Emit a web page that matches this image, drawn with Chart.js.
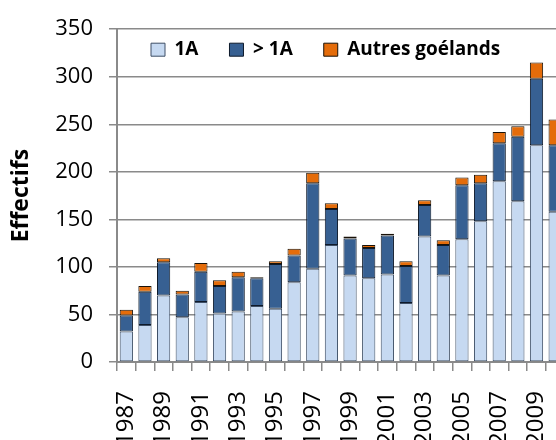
<!DOCTYPE html>
<html>
<head>
<meta charset="utf-8">
<script src="https://cdn.jsdelivr.net/npm/chart.js@4/dist/chart.umd.min.js"></script>
<style>
  html, body { margin: 0; padding: 0; background: #fff; overflow: hidden; }
  #wrap { width: 604px; height: 440px; }
</style>
</head>
<body>
<div id="wrap"><canvas id="effectifsChart" width="604" height="440"></canvas></div>
<script>
// Counts per year
const years = ["1987", "1988", "1989", "1990", "1991", "1992", "1993", "1994", "1995", "1996", "1997", "1998",
  "1999", "2000", "2001", "2002", "2003", "2004", "2005", "2006", "2007", "2008", "2009", "2010"];
const firstYear = [32, 39, 70, 47, 63, 51, 53, 59, 56, 84, 98, 123, 91, 88, 92, 62, 132, 91, 129, 148, 190, 169, 228, 158];
const olderBirds = [17, 35, 35, 24, 32, 29, 36, 29, 47, 28, 90, 38, 39, 32, 41, 39, 33, 32, 57, 40, 40, 68, 70, 70];
const otherGulls = [6, 6, 4, 4, 9, 6, 6, 1, 3, 7, 11, 6, 2, 3, 2, 5, 5, 5, 8, 9, 12, 11, 17, 27];
const yTicks = [0, 50, 100, 150, 200, 250, 300, 350];

const gridGray = "#8a8a8a";

// the legend sits inside the plot, just under the top gridline
const legendInPlot = {
  id: "legendInPlot",
  beforeDraw(chart) {
    const lg = chart.legend;
    if (!lg) return;
    const area = chart.chartArea;
    lg.left = area.left + 3;
    lg.right = area.right;
    lg.top = area.top - 20;
    lg.bottom = area.top + 40;
    lg.width = lg.right - lg.left;
    lg.height = lg.bottom - lg.top;
  },
};

document.addEventListener("DOMContentLoaded", () => {
  const ctx = document.getElementById("effectifsChart").getContext("2d");
  new Chart(ctx, {
    type: "bar",
    data: {
      labels: years,
      datasets: [
        {
          label: "1A",
          data: firstYear,
          backgroundColor: "#c6d9f1",
          borderColor: "#3e4f66",
          borderWidth: 1,
          borderSkipped: false,
        },
        {
          label: "> 1A",
          data: olderBirds,
          backgroundColor: "#376092",
          borderColor: "#0e1a2b",
          borderWidth: 1,
          borderSkipped: false,
        },
        {
          label: "Autres goélands",
          data: otherGulls,
          backgroundColor: "#e46c0a",
          borderColor: "#1a1208",
          borderWidth: 1,
          borderSkipped: false,
        },
      ],
    },
    options: {
      responsive: false,
      animation: false,
      layout: { padding: { top: 0, right: 2, bottom: 0, left: 0 } },
      datasets: { bar: { categoryPercentage: 0.71, barPercentage: 1 } },
      plugins: {
        tooltip: { enabled: false },
        legend: {
          position: "top",
          align: "start",
          maxHeight: 26,
          labels: {
            boxWidth: 14,
            boxHeight: 13,
            padding: 31,
            color: "#000",
            font: { family: "'Open Sans'", size: 19, weight: "bold" },
          },
        },
      },
      scales: {
        x: {
          stacked: true,
          offset: true,
          grid: { drawOnChartArea: false, drawTicks: true, tickLength: 9, color: gridGray, lineWidth: 1.5 },
          border: { color: gridGray, width: 2 },
          ticks: {
            autoSkip: false,
            minRotation: 90,
            maxRotation: 90,
            padding: 20,
            color: "#000",
            font: { family: "'Open Sans'", size: 24 },
            callback: (v, i) => (i % 2 === 0 ? years[i] : ""),
          },
          afterFit: (scale) => { scale.height = 78; },
        },
        y: {
          stacked: true,
          min: 0,
          max: 350,
          afterBuildTicks: (scale) => { scale.ticks = yTicks.map((v) => ({ value: v })); },
          grid: { color: gridGray, lineWidth: 1.5, tickLength: 8 },
          border: { color: gridGray, width: 2 },
          ticks: {
            padding: 16,
            color: "#000",
            font: { family: "'Open Sans'", size: 22 },
          },
          title: {
            display: true,
            text: "Effectifs",
            color: "#000",
            padding: { top: 8, bottom: 0 },
            font: { family: "'Open Sans'", size: 23, weight: "bold" },
          },
          afterFit: (scale) => { scale.width = 117; },
        },
      },
    },
    plugins: [legendInPlot],
  });
});
</script>
</body>
</html>
